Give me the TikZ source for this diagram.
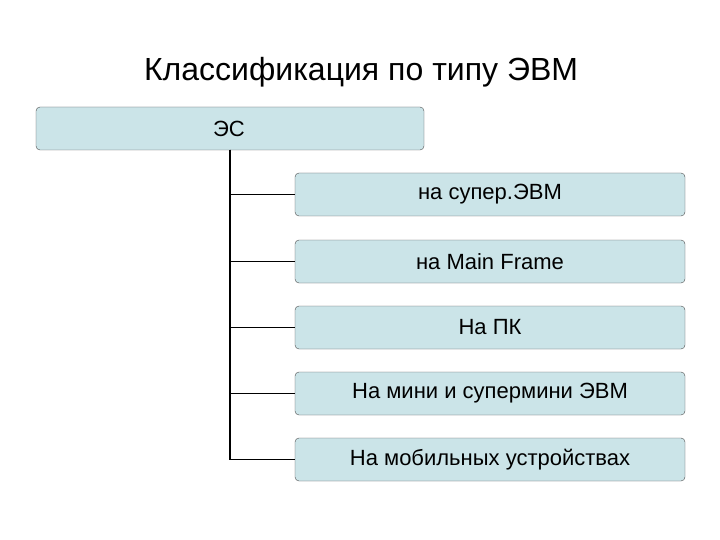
\documentclass[tikz,border=0pt]{standalone}
\usepackage{fontspec}
\setmainfont{Liberation Sans}
\definecolor{boxfill}{RGB}{203,228,232}
\begin{document}
\begin{tikzpicture}[x=1pt,y=-1pt,
  box/.style={draw=black!70,fill=boxfill,rounded corners=4pt,minimum height=43pt,inner sep=0pt,font=\fontsize{22}{24}\selectfont},
  conn/.style={draw=black,line width=1.5pt}]
\useasboundingbox (0,0) rectangle (720,540);
\node (title) at (361,72) {\fontsize{32}{36}\selectfont Классификация по типу ЭВМ};
\node[box,minimum width=388pt] (root) at (230,128.5) {};
\node[font=\fontsize{22}{24}\selectfont] (rl) at (229,129) {ЭС};
\node[box,minimum width=390pt] (c1) at (490,194.5) {на супер.ЭВМ};
\node[box,minimum width=390pt] (c2) at (490,261.5) {на Main Frame};
\node[box,minimum width=390pt] (c3) at (490,327.5) {На ПК};
\node[box,minimum width=390pt] (c4) at (490,393.5) {На мини и супермини ЭВМ};
\node[box,minimum width=390pt] (c5) at (490,459.5) {На мобильных устройствах};
\coordinate (top) at (230,150);
\draw[conn] (top) |- (c1.west);
\draw[conn] (top) |- (c2.west);
\draw[conn] (top) |- (c3.west);
\draw[conn] (top) |- (c4.west);
\draw[conn] (top) |- (c5.west);
\end{tikzpicture}
\end{document}
